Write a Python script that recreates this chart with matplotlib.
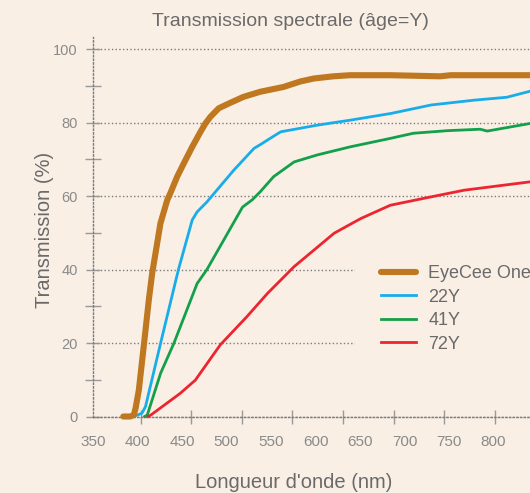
import matplotlib
matplotlib.use("Agg")
import matplotlib.pyplot as plt
import numpy as np

plt.rcParams['font.family'] = ['Liberation Sans', 'DejaVu Sans']

# courbes
eyecee_nm = [384, 392, 395.8, 397.8, 401.5, 405.3, 409, 412.7, 416.5, 420.2, 425.8, 433.4, 437.1, 444.6, 452,
             461.5, 470.8, 476.4, 482, 491.3, 502.6, 519, 538, 564, 583, 598, 620, 639, 684, 740, 752, 800, 850]
eyecee_t = [0, 0, 0.4, 2.2, 7.2, 15.4, 23.5, 31.7, 39, 44.4, 52.6, 58.9, 60.9, 65.3, 68.9,
            73.4, 77.5, 79.8, 81.6, 83.9, 85.2, 87, 88.4, 89.7, 91.2, 92, 92.6, 92.9, 92.9, 92.6, 92.9, 92.9, 92.9]

y22_nm = [395, 400, 405, 409, 426, 446, 461.5, 467, 478, 486, 508, 531, 538, 549, 561, 602, 640, 685, 730, 778, 815, 842, 850]
y22_t = [0, 0.4, 0.9, 2.7, 20, 40, 53.5, 55.7, 58.4, 60.7, 67, 73, 74, 75.7, 77.5, 79.3, 80.7, 82.5, 84.8, 86.1, 86.9, 88.6, 89]

y41_nm = [408, 411, 426, 441, 467, 478, 518, 529, 538, 553, 576, 602, 639, 684, 710, 748, 785, 793, 842, 850]
y41_t = [0, 0.4, 11.8, 20, 36.2, 40, 57, 59, 61.2, 65.3, 69.3, 71.2, 73.4, 75.7, 77.1, 77.8, 78.2, 77.7, 79.8, 80.1]

y72_nm = [412, 415, 448, 465, 493, 523, 546, 576, 621, 651, 684, 722, 767, 842, 850]
y72_t = [0, 0.4, 6.3, 9.9, 19.5, 27.2, 33.5, 40.8, 49.9, 53.9, 57.5, 59.4, 61.6, 63.9, 64.1]

labels = ["EyeCee One", "22Y", "41Y", "72Y"]
x_ticks = [350, 400, 450, 500, 550, 600, 650, 700, 750, 800]
y_ticks = [0, 20, 40, 60, 80, 100]

bg = "#F9EFE5"
grey = "#7c7c7c"

fig = plt.figure(figsize=(5.3, 4.93), dpi=100, facecolor=bg)
# l'axe depasse a droite de l'image, comme sur l'original
ax = fig.add_axes([93 / 530, 76.5 / 493, 489.5 / 530, 379.5 / 493])
ax.set_facecolor(bg)

ax.plot(eyecee_nm, eyecee_t, color="#BF7720", lw=4.4, label=labels[0], clip_on=False,
        solid_capstyle="round", solid_joinstyle="round", zorder=5)
ax.plot(y22_nm, y22_t, color="#18ADEA", lw=2.0, label=labels[1], clip_on=False, zorder=4)
ax.plot(y41_nm, y41_t, color="#12A04A", lw=2.0, label=labels[2], clip_on=False, zorder=4)
ax.plot(y72_nm, y72_t, color="#EC2530", lw=2.0, label=labels[3], clip_on=False, zorder=4)

ax.set_xlim(350, 900)
ax.set_ylim(0, 103.3)

ax.set_xticks(x_ticks)
ax.set_yticks(y_ticks)
ax.set_yticks([10, 30, 50, 70, 90], minor=True)
# petites marques verticales decalees par rapport aux etiquettes
ax.set_xticks(403.4 + 56.9 * np.arange(8), minor=True)

ax.tick_params(axis="x", which="major", length=0, pad=13, labelsize=11, labelcolor="#8a8a8a")
ax.tick_params(axis="x", which="minor", direction="inout", length=10, width=1, color="#999999")
ax.tick_params(axis="y", which="major", direction="inout", length=10, width=1, color="#999999",
               pad=6, labelsize=10.5, labelcolor="#8a8a8a")
ax.tick_params(axis="y", which="minor", direction="inout", length=12, width=1, color="#999999")

ax.grid(axis="y", which="major", linestyle=":", color=grey, lw=1.0)
for s in ["top", "right"]:
    ax.spines[s].set_visible(False)
for s in ["left", "bottom"]:
    ax.spines[s].set_linestyle(":")
    ax.spines[s].set_color(grey)
    ax.spines[s].set_linewidth(1.0)

fig.text(290 / 530, 1 - 22 / 493, "Transmission spectrale (âge=Y)", ha="center", va="center",
         fontsize=14, color="#6a6a6a")
fig.text(294 / 530, 1 - 482 / 493, "Longueur d'onde (nm)", ha="center", va="center",
         fontsize=14.5, color="#6a6a6a")
fig.text(45 / 530, 1 - 230 / 493, "Transmission (%)", ha="center", va="center", rotation=90,
         fontsize=14.5, color="#6a6a6a")

leg = ax.legend(loc="upper left", bbox_to_anchor=(355 / 530, 1 - 239 / 493), bbox_transform=fig.transFigure,
                fontsize=13, frameon=True, facecolor=bg, edgecolor=bg, framealpha=1, fancybox=False,
                borderpad=1.45, handlelength=1.94, handletextpad=0.67, labelspacing=0.36, borderaxespad=0)
for t in leg.get_texts():
    t.set_color("#6a6a6a")
leg.set_zorder(10)

fig.savefig("out.png", dpi=100, facecolor=bg)
